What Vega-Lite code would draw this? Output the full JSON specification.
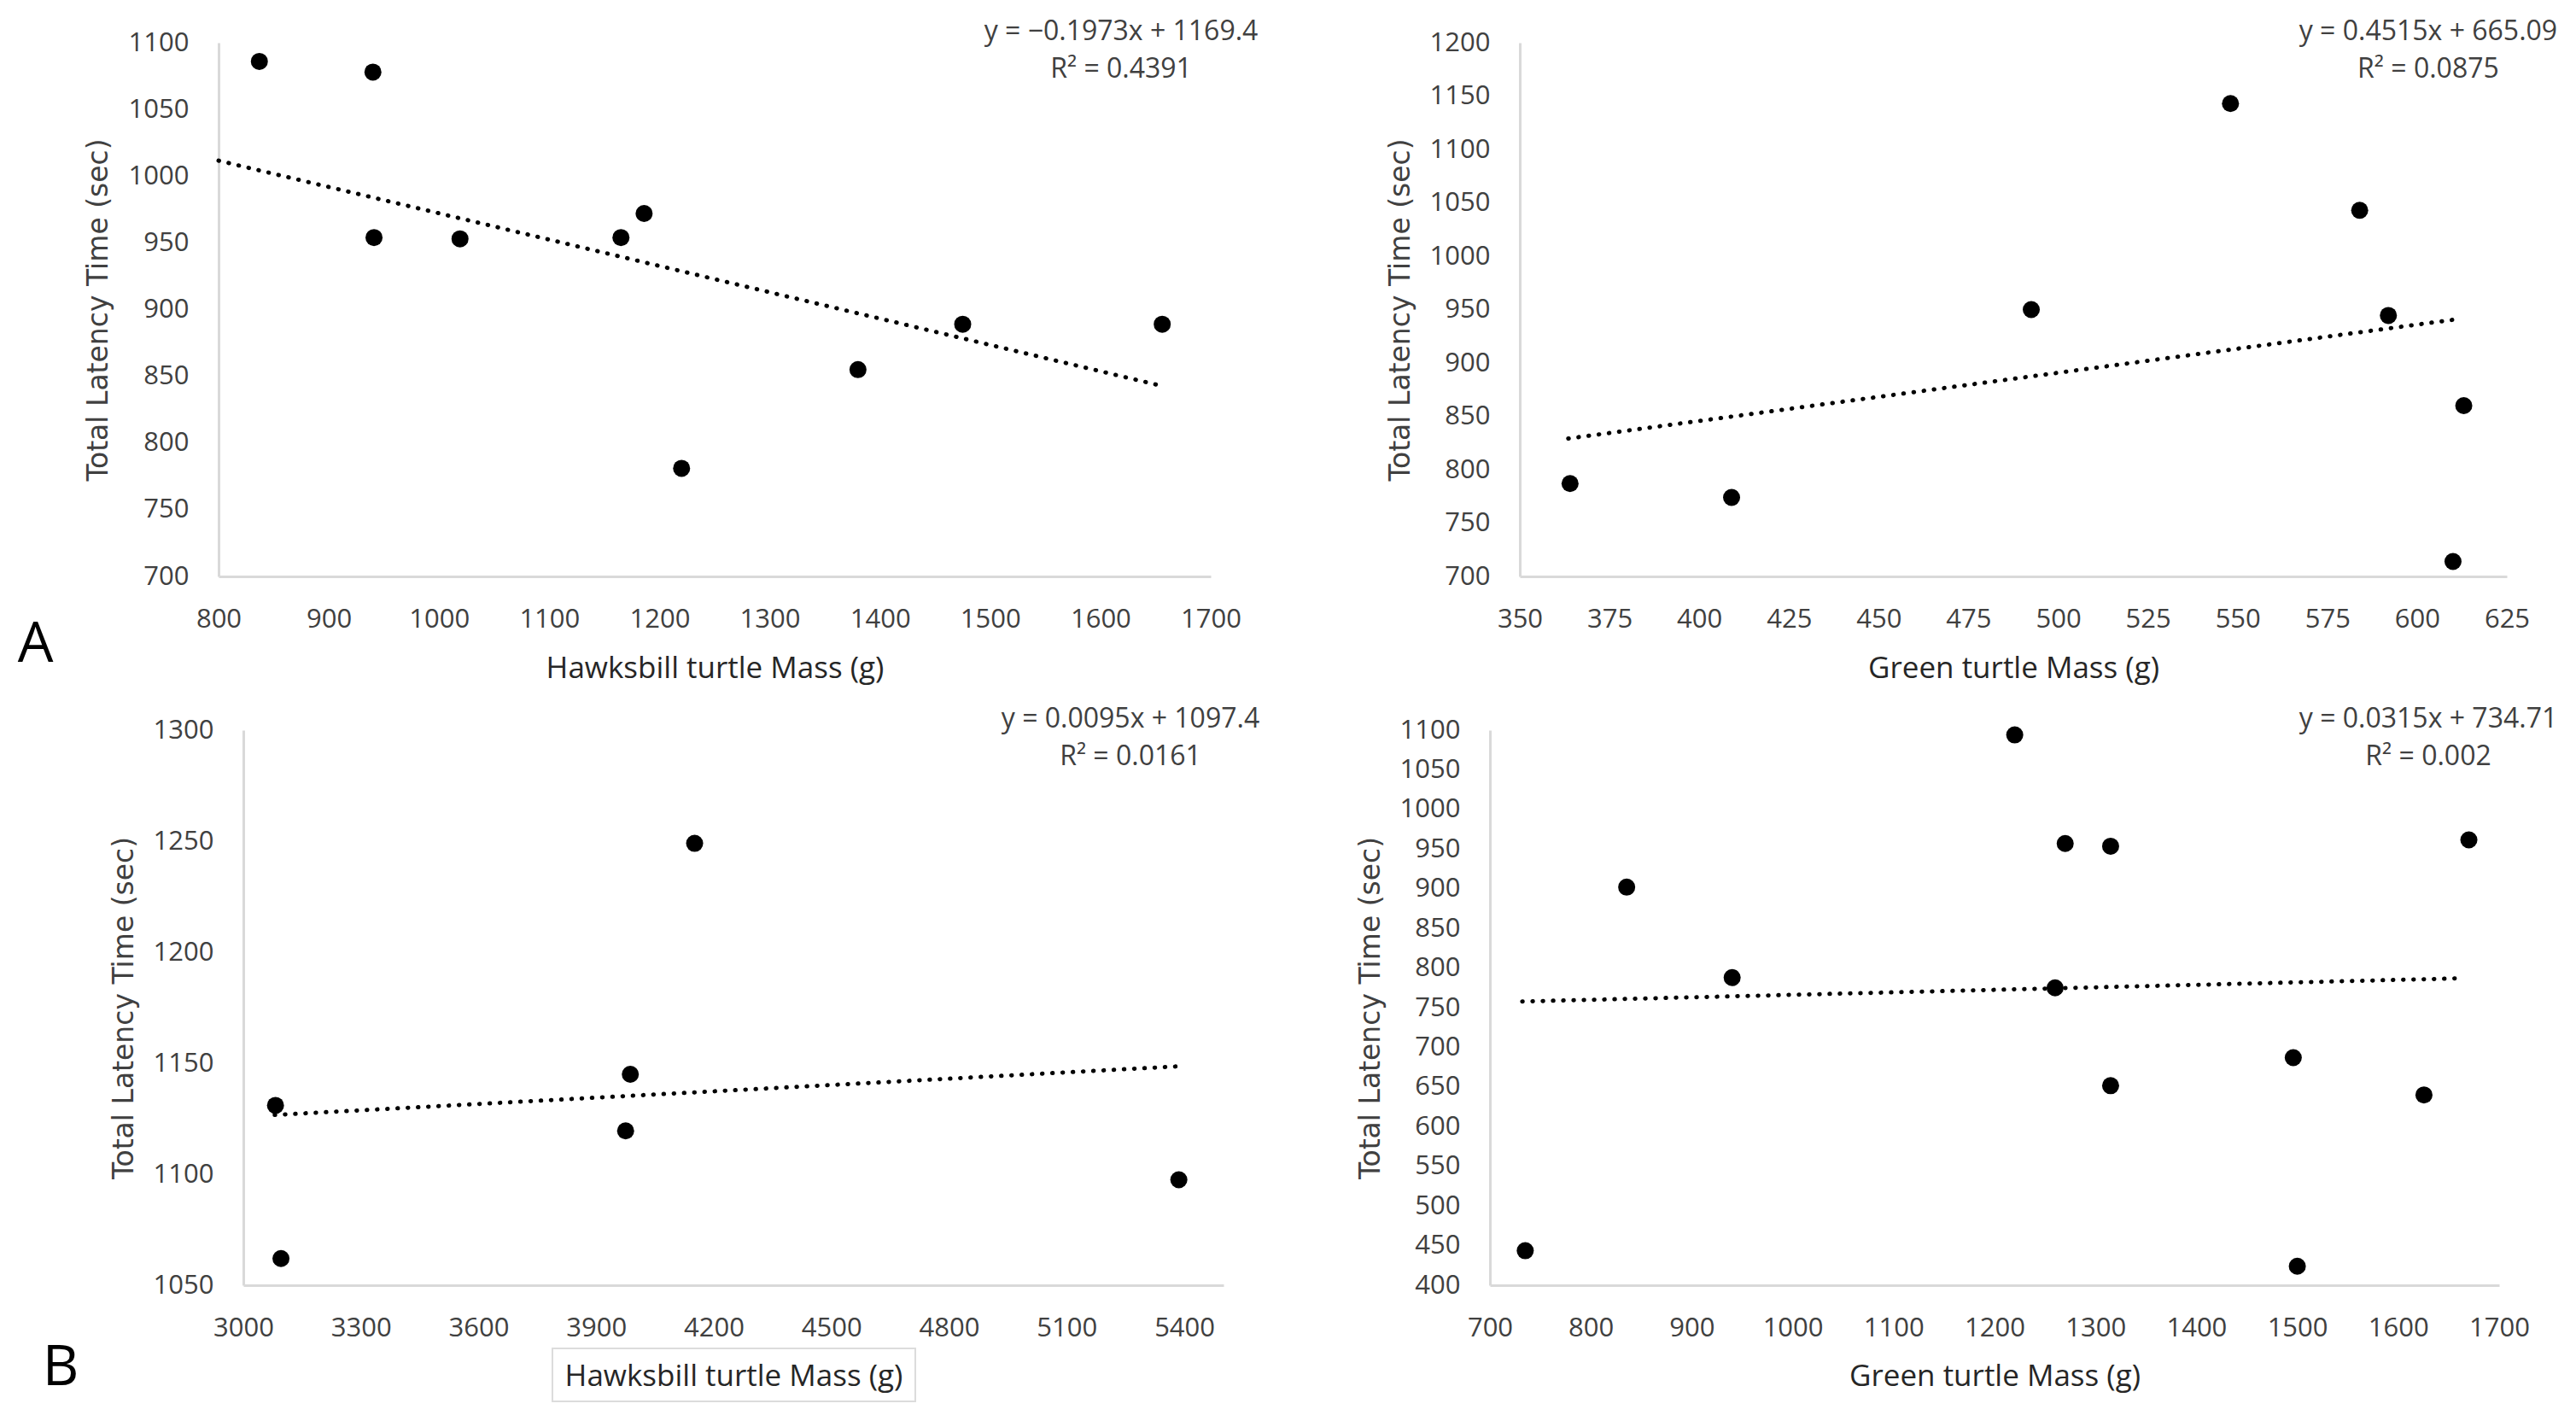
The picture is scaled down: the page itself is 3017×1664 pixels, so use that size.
{
  "$schema": "https://vega.github.io/schema/vega-lite/v6.json",
  "width": 3017,
  "height": 1664,
  "autosize": {"type": "none"},
  "padding": 0,
  "background": "white",
  "config": {
    "view": {"stroke": null},
    "axis": {
      "domainColor": "#d9d9d9",
      "domainWidth": 3,
      "ticks": false,
      "tickSize": 0,
      "grid": false,
      "format": "d",
      "labelFont": "Open Sans",
      "labelFontSize": 31,
      "labelColor": "#404040",
      "labelPadding": 35,
      "labelFlush": false,
      "labelOverlap": false,
      "labelBound": false,
      "titleFontWeight": "normal",
      "titleColor": "#262626",
      "titleAlign": "center",
      "titleBaseline": "middle"
    },
    "axisX": {"titleFont": "Open Sans", "titleFontSize": 35},
    "axisY": {"titleFont": "DejaVu Sans", "titleFontSize": 33, "titleColor": "#404040"},
    "text": {"font": "Open Sans", "fontSize": 32, "color": "#404040", "baseline": "middle", "align": "center"}
  },
  "datasets": {
    "tl": [
      {"mass": 837, "latency": 1086},
      {"mass": 940, "latency": 1078},
      {"mass": 941, "latency": 954},
      {"mass": 1019, "latency": 953},
      {"mass": 1165, "latency": 954},
      {"mass": 1186, "latency": 972},
      {"mass": 1220, "latency": 781},
      {"mass": 1380, "latency": 855},
      {"mass": 1475, "latency": 889},
      {"mass": 1656, "latency": 889}
    ],
    "tl_trend": [{"mass": 800, "latency": 1011.6}, {"mass": 1655, "latency": 842.9}],
    "tr": [
      {"mass": 364, "latency": 787},
      {"mass": 409, "latency": 774},
      {"mass": 492.5, "latency": 950},
      {"mass": 548, "latency": 1143},
      {"mass": 584, "latency": 1043},
      {"mass": 592, "latency": 944.5},
      {"mass": 613, "latency": 860},
      {"mass": 610, "latency": 714}
    ],
    "tr_trend": [{"mass": 363.5, "latency": 829.2}, {"mass": 611, "latency": 940.9}],
    "bl": [
      {"mass": 3082, "latency": 1131},
      {"mass": 3096, "latency": 1062},
      {"mass": 3975, "latency": 1119.5},
      {"mass": 3987, "latency": 1145},
      {"mass": 4151, "latency": 1249},
      {"mass": 5386, "latency": 1097.5}
    ],
    "bl_trend": [{"mass": 3080, "latency": 1126.7}, {"mass": 5386, "latency": 1148.6}],
    "br": [
      {"mass": 735, "latency": 443.5},
      {"mass": 835.5, "latency": 902},
      {"mass": 940, "latency": 788},
      {"mass": 1220, "latency": 1094},
      {"mass": 1260, "latency": 775},
      {"mass": 1270, "latency": 957},
      {"mass": 1315, "latency": 953.6},
      {"mass": 1315, "latency": 651.6},
      {"mass": 1496, "latency": 687},
      {"mass": 1500, "latency": 424},
      {"mass": 1625.5, "latency": 640},
      {"mass": 1670, "latency": 961.6}
    ],
    "br_trend": [{"mass": 732, "latency": 757.8}, {"mass": 1664, "latency": 787.1}],
    "one": [{}]
  },
  "layer": [
    {
      "data": {"name": "tl"},
      "mark": {"type": "circle", "size": 400, "color": "black", "opacity": 1},
      "encoding": {
        "x": {"field": "mass", "type": "quantitative",
          "scale": {"domain": [800, 1700], "range": [256, 1418], "nice": false, "zero": false},
          "axis": {"orient": "bottom", "offset": -989, "values": [800, 900, 1000, 1100, 1200, 1300, 1400, 1500, 1600, 1700], "title": "Hawksbill turtle Mass (g)", "titleY": 107}},
        "y": {"field": "latency", "type": "quantitative",
          "scale": {"domain": [700, 1100], "range": [675, 50], "nice": false, "zero": false},
          "axis": {"orient": "left", "offset": -256, "values": [700, 750, 800, 850, 900, 950, 1000, 1050, 1100], "title": "Total Latency Time (sec)", "titleX": -141}}
      }
    },
    {
      "data": {"name": "tl_trend"},
      "mark": {"type": "line", "color": "black", "strokeWidth": 5, "strokeDash": [0.5, 11.5], "strokeCap": "round"},
      "encoding": {
        "x": {"field": "mass", "type": "quantitative", "axis": null, "scale": {"domain": [800, 1700], "range": [256, 1418], "nice": false, "zero": false}},
        "y": {"field": "latency", "type": "quantitative", "axis": null, "scale": {"domain": [700, 1100], "range": [675, 50], "nice": false, "zero": false}}
      }
    },
    {
      "data": {"name": "one"},
      "mark": {"type": "text", "text": "y = −0.1973x + 1169.4"},
      "encoding": {
        "x": {"datum": 1618.7, "axis": null, "scale": {"domain": [800, 1700], "range": [256, 1418], "nice": false, "zero": false}},
        "y": {"datum": 1108.3, "axis": null, "scale": {"domain": [700, 1100], "range": [675, 50], "nice": false, "zero": false}}
      }
    },
    {
      "data": {"name": "one"},
      "mark": {"type": "text", "text": "R² = 0.4391"},
      "encoding": {
        "x": {"datum": 1618.7, "axis": null, "scale": {"domain": [800, 1700], "range": [256, 1418], "nice": false, "zero": false}},
        "y": {"datum": 1080.2, "axis": null, "scale": {"domain": [700, 1100], "range": [675, 50], "nice": false, "zero": false}}
      }
    },
    {
      "data": {"name": "one"},
      "mark": {"type": "text", "text": "A", "fontSize": 66, "color": "black"},
      "encoding": {
        "x": {"datum": 634, "axis": null, "scale": {"domain": [800, 1700], "range": [256, 1418], "nice": false, "zero": false}},
        "y": {"datum": 648.8, "axis": null, "scale": {"domain": [700, 1100], "range": [675, 50], "nice": false, "zero": false}}
      }
    },
    {
      "data": {"name": "tr"},
      "mark": {"type": "circle", "size": 400, "color": "black", "opacity": 1},
      "encoding": {
        "x": {"field": "mass", "type": "quantitative",
          "scale": {"domain": [350, 625], "range": [1780, 2936], "nice": false, "zero": false},
          "axis": {"orient": "bottom", "offset": -989, "values": [350, 375, 400, 425, 450, 475, 500, 525, 550, 575, 600, 625], "title": "Green turtle Mass (g)", "titleY": 107}},
        "y": {"field": "latency", "type": "quantitative",
          "scale": {"domain": [700, 1200], "range": [675, 50], "nice": false, "zero": false},
          "axis": {"orient": "left", "offset": -1780, "values": [700, 750, 800, 850, 900, 950, 1000, 1050, 1100, 1150, 1200], "title": "Total Latency Time (sec)", "titleX": -140}}
      }
    },
    {
      "data": {"name": "tr_trend"},
      "mark": {"type": "line", "color": "black", "strokeWidth": 5, "strokeDash": [0.5, 11.5], "strokeCap": "round"},
      "encoding": {
        "x": {"field": "mass", "type": "quantitative", "axis": null, "scale": {"domain": [350, 625], "range": [1780, 2936], "nice": false, "zero": false}},
        "y": {"field": "latency", "type": "quantitative", "axis": null, "scale": {"domain": [700, 1200], "range": [675, 50], "nice": false, "zero": false}}
      }
    },
    {
      "data": {"name": "one"},
      "mark": {"type": "text", "text": "y = 0.4515x + 665.09"},
      "encoding": {
        "x": {"datum": 603.1, "axis": null, "scale": {"domain": [350, 625], "range": [1780, 2936], "nice": false, "zero": false}},
        "y": {"datum": 1210.4, "axis": null, "scale": {"domain": [700, 1200], "range": [675, 50], "nice": false, "zero": false}}
      }
    },
    {
      "data": {"name": "one"},
      "mark": {"type": "text", "text": "R² = 0.0875"},
      "encoding": {
        "x": {"datum": 603.1, "axis": null, "scale": {"domain": [350, 625], "range": [1780, 2936], "nice": false, "zero": false}},
        "y": {"datum": 1175.2, "axis": null, "scale": {"domain": [700, 1200], "range": [675, 50], "nice": false, "zero": false}}
      }
    },
    {
      "data": {"name": "bl"},
      "mark": {"type": "circle", "size": 400, "color": "black", "opacity": 1},
      "encoding": {
        "x": {"field": "mass", "type": "quantitative",
          "scale": {"domain": [3000, 5500], "range": [285, 1433], "nice": false, "zero": false},
          "axis": {"orient": "bottom", "offset": -159, "values": [3000, 3300, 3600, 3900, 4200, 4500, 4800, 5100, 5400], "title": "Hawksbill turtle Mass (g)", "titleY": 106}},
        "y": {"field": "latency", "type": "quantitative",
          "scale": {"domain": [1050, 1300], "range": [1505, 855], "nice": false, "zero": false},
          "axis": {"orient": "left", "offset": -285, "values": [1050, 1100, 1150, 1200, 1250, 1300], "title": "Total Latency Time (sec)", "titleX": -140}}
      }
    },
    {
      "data": {"name": "bl_trend"},
      "mark": {"type": "line", "color": "black", "strokeWidth": 5, "strokeDash": [0.5, 11.5], "strokeCap": "round"},
      "encoding": {
        "x": {"field": "mass", "type": "quantitative", "axis": null, "scale": {"domain": [3000, 5500], "range": [285, 1433], "nice": false, "zero": false}},
        "y": {"field": "latency", "type": "quantitative", "axis": null, "scale": {"domain": [1050, 1300], "range": [1505, 855], "nice": false, "zero": false}}
      }
    },
    {
      "data": {"name": "one"},
      "mark": {"type": "rect", "fill": "white", "fillOpacity": 0, "stroke": "#dcdcdc", "strokeWidth": 2},
      "encoding": {
        "x": {"datum": 3788.3, "axis": null, "scale": {"domain": [3000, 5500], "range": [285, 1433], "nice": false, "zero": false}},
        "x2": {"datum": 4713.8},
        "y": {"datum": 1021.5, "axis": null, "scale": {"domain": [1050, 1300], "range": [1505, 855], "nice": false, "zero": false}},
        "y2": {"datum": 997.7}
      }
    },
    {
      "data": {"name": "one"},
      "mark": {"type": "text", "text": "y = 0.0095x + 1097.4"},
      "encoding": {
        "x": {"datum": 5262.6, "axis": null, "scale": {"domain": [3000, 5500], "range": [285, 1433], "nice": false, "zero": false}},
        "y": {"datum": 1305, "axis": null, "scale": {"domain": [1050, 1300], "range": [1505, 855], "nice": false, "zero": false}}
      }
    },
    {
      "data": {"name": "one"},
      "mark": {"type": "text", "text": "R² = 0.0161"},
      "encoding": {
        "x": {"datum": 5262.6, "axis": null, "scale": {"domain": [3000, 5500], "range": [285, 1433], "nice": false, "zero": false}},
        "y": {"datum": 1288.1, "axis": null, "scale": {"domain": [1050, 1300], "range": [1505, 855], "nice": false, "zero": false}}
      }
    },
    {
      "data": {"name": "one"},
      "mark": {"type": "text", "text": "B", "fontSize": 66, "color": "black"},
      "encoding": {
        "x": {"datum": 2534, "axis": null, "scale": {"domain": [3000, 5500], "range": [285, 1433], "nice": false, "zero": false}},
        "y": {"datum": 1012.7, "axis": null, "scale": {"domain": [1050, 1300], "range": [1505, 855], "nice": false, "zero": false}}
      }
    },
    {
      "data": {"name": "br"},
      "mark": {"type": "circle", "size": 400, "color": "black", "opacity": 1},
      "encoding": {
        "x": {"field": "mass", "type": "quantitative",
          "scale": {"domain": [700, 1700], "range": [1745, 2927], "nice": false, "zero": false},
          "axis": {"orient": "bottom", "offset": -159, "values": [700, 800, 900, 1000, 1100, 1200, 1300, 1400, 1500, 1600, 1700], "title": "Green turtle Mass (g)", "titleY": 106}},
        "y": {"field": "latency", "type": "quantitative",
          "scale": {"domain": [400, 1100], "range": [1505, 855], "nice": false, "zero": false},
          "axis": {"orient": "left", "offset": -1745, "values": [400, 450, 500, 550, 600, 650, 700, 750, 800, 850, 900, 950, 1000, 1050, 1100], "title": "Total Latency Time (sec)", "titleX": -140}}
      }
    },
    {
      "data": {"name": "br_trend"},
      "mark": {"type": "line", "color": "black", "strokeWidth": 5, "strokeDash": [0.5, 11.5], "strokeCap": "round"},
      "encoding": {
        "x": {"field": "mass", "type": "quantitative", "axis": null, "scale": {"domain": [700, 1700], "range": [1745, 2927], "nice": false, "zero": false}},
        "y": {"field": "latency", "type": "quantitative", "axis": null, "scale": {"domain": [400, 1100], "range": [1505, 855], "nice": false, "zero": false}}
      }
    },
    {
      "data": {"name": "one"},
      "mark": {"type": "text", "text": "y = 0.0315x + 734.71"},
      "encoding": {
        "x": {"datum": 1629.8, "axis": null, "scale": {"domain": [700, 1700], "range": [1745, 2927], "nice": false, "zero": false}},
        "y": {"datum": 1114, "axis": null, "scale": {"domain": [400, 1100], "range": [1505, 855], "nice": false, "zero": false}}
      }
    },
    {
      "data": {"name": "one"},
      "mark": {"type": "text", "text": "R² = 0.002"},
      "encoding": {
        "x": {"datum": 1629.8, "axis": null, "scale": {"domain": [700, 1700], "range": [1745, 2927], "nice": false, "zero": false}},
        "y": {"datum": 1066.6, "axis": null, "scale": {"domain": [400, 1100], "range": [1505, 855], "nice": false, "zero": false}}
      }
    }
  ],
  "resolve": {
    "scale": {"x": "independent", "y": "independent"},
    "axis": {"x": "independent", "y": "independent"}
  }
}
